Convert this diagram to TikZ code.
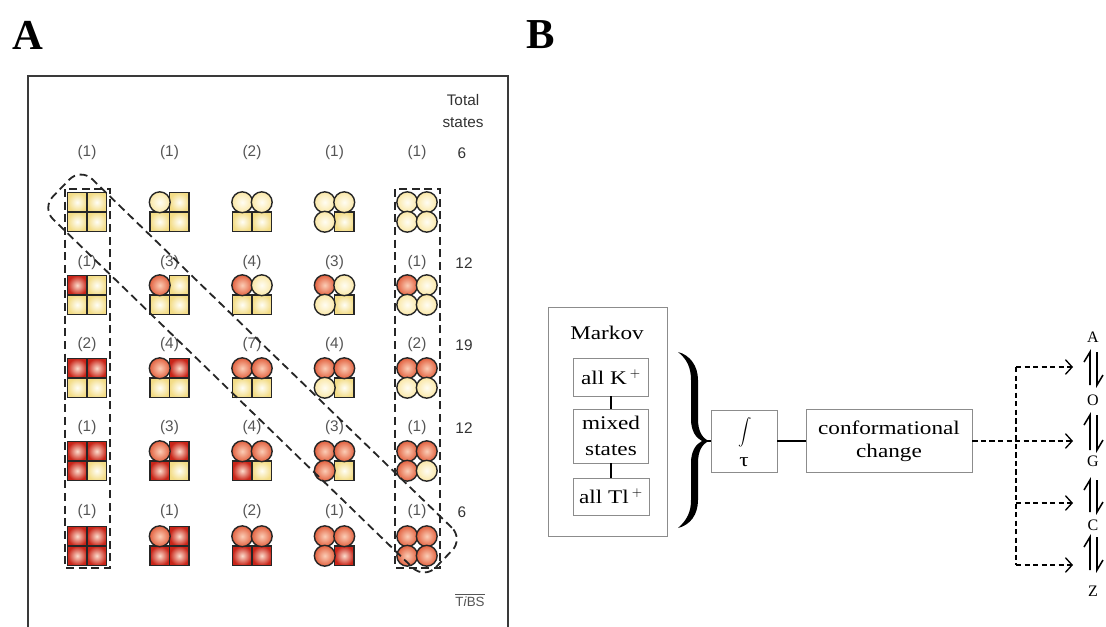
\documentclass[tikz,border=0pt]{standalone}
\usepackage{fontspec}
\setmainfont{Liberation Serif}
\setsansfont{Liberation Sans}
\newfontfamily\bfont[FakeStretch=1.2]{Liberation Serif}
\usetikzlibrary{arrows.meta}
\definecolor{redout}{HTML}{C92418}
\definecolor{redin}{HTML}{FCDCCC}
\definecolor{credout}{HTML}{E2603E}
\definecolor{credin}{HTML}{FBCDB6}
\definecolor{yelout}{HTML}{F3DC86}
\definecolor{yelin}{HTML}{FFFEF6}
\definecolor{cyelout}{HTML}{FAE7A6}
\definecolor{cyelin}{HTML}{FFFDF3}
\definecolor{labgray}{HTML}{555555}
\definecolor{framegray}{HTML}{3A3A3A}
\newcommand\glyph[4]{%
  \foreach \k/\dx/\dy in {0/0/0,1/1/0,2/0/1,3/1/1}{%
    \ifnum\k<#4\relax\def\gin{redin}\def\gout{redout}\else\def\gin{yelin}\def\gout{yelout}\fi
    \ifnum\k<#3\relax\else
      \draw[cellline, inner color=\gin, outer color=\gout]
        ({#1-19.5+\dx*19.5},{#2-19.5+\dy*19.5}) rectangle ++(19.5,19.5);
    \fi
  }%
  \foreach \k/\dx/\dy in {0/0/0,1/1/0,2/0/1,3/1/1}{%
    \ifnum\k<#4\relax\def\gin{credin}\def\gout{credout}\else\def\gin{cyelin}\def\gout{cyelout}\fi
    \ifnum\k<#3\relax
      \draw[cellline, inner color=\gin, outer color=\gout]
        ({#1-9.75+\dx*19.5},{#2-9.75+\dy*19.5}) circle[radius=10.4];
    \fi
  }%
}
\newcommand\harp[2]{%
  \draw[harpline] (1090,#2) -- (1090,#1) -- (1084,#1+10);
  \draw[harpline] (1097,#1) -- (1097,#2) -- (1103,#2-10);
}
\begin{document}
\begin{tikzpicture}[x=0.75pt,y=-0.75pt,
  cellline/.style={draw=black!85, line width=1.05pt},
  dashbox/.style={draw=black!85, line width=1.35pt, dash pattern=on 6pt off 3.5pt},
  lab/.style={font=\fontsize{11.5}{13}\sffamily, text=labgray, inner sep=0pt},
  tot/.style={font=\fontsize{11.5}{13}\sffamily, text=black!80, inner sep=0pt},
  bbox/.style={draw=black!45, line width=0.6pt, inner sep=0pt, align=center},
  btext/.style={font=\bfont\fontsize{14.5}{17}\selectfont, inner sep=0pt, align=center},
  conn/.style={line width=0.8pt},
  dconn/.style={line width=0.9pt, dash pattern=on 4pt off 2.4pt},
  tip/.style={-{Straight Barb[length=5pt,width=11pt,line width=1pt]}},
  harpline/.style={line width=1.15pt},
  panel/.style={font=\fontsize{32}{32}\selectfont\bfseries, inner sep=0pt},
  letter/.style={font=\fontsize{12}{14}\selectfont, inner sep=0pt}
]
\useasboundingbox (0,0) rectangle (1106,626);
\fill[white] (0,0) rectangle (1106,626);

% panel labels
\node[panel] (pA) at (28,35) {A};
\node[panel] (pB) at (541,35) {B};

% ---------- Panel A ----------
\draw[framegray, line width=1.1pt] (28,630) -- (28,76) -- (508,76) -- (508,630);

\node[tot] (tot1) at (463,100) {Total};
\node[tot] (tot2) at (463,123) {states};

\foreach \rr/\yy in {0/212,1/295,2/378,3/461,4/546}{
  \foreach \cc in {0,...,4}{\glyph{87+82.5*\cc}{\yy}{\cc}{\rr}}
}

\foreach \cc/\n in {0/1,1/1,2/2,3/1,4/1} \node[lab] (na\cc) at ({87+82.5*\cc},153) {(\n)};
\foreach \cc/\n in {0/1,1/3,2/4,3/3,4/1} \node[lab] (nb\cc) at ({87+82.5*\cc},263) {(\n)};
\foreach \cc/\n in {0/2,1/4,2/7,3/4,4/2} \node[lab] (nc\cc) at ({87+82.5*\cc},345) {(\n)};
\foreach \cc/\n in {0/1,1/3,2/4,3/3,4/1} \node[lab] (nd\cc) at ({87+82.5*\cc},428) {(\n)};
\foreach \cc/\n in {0/1,1/1,2/2,3/1,4/1} \node[lab] (ne\cc) at ({87+82.5*\cc},512) {(\n)};

\node[tot] (s1) at (462,153) {6};
\node[tot] (s2) at (464,263) {12};
\node[tot] (s3) at (464,345) {19};
\node[tot] (s4) at (464,428) {12};
\node[tot] (s5) at (462,512) {6};

\draw[dashbox] (65,189) rectangle (110,568);
\draw[dashbox] (395,189) rectangle (440,568);
\node[dashbox, rounded corners=12pt, minimum width=399.75pt, minimum height=42pt,
  rotate=-44.1] (diag) at (252.5,373.5) {};

\node[inner sep=0pt, text=labgray, font=\fontsize{10}{12}\sffamily] (tibs) at (470,600)
  {$\overline{\hbox{T\textit{i}BS}}$};

% ---------- Panel B ----------
\node[bbox, minimum width=89.25pt, minimum height=171.75pt] (markov) at (607.5,421.5) {};
\node[btext] (mk) at (607,333) {Markov};
\node[bbox, btext, draw=black!45, minimum width=56.25pt, minimum height=28.5pt] (allK) at (611,377) {all K\,$^{+}$};
\node[bbox, btext, draw=black!45, minimum width=56.25pt, minimum height=40.5pt,
  font=\bfont\fontsize{14.5}{19.5}\selectfont] (mixed) at (611,436) {mixed\\states};
\node[bbox, btext, draw=black!45, minimum width=57pt, minimum height=27.75pt] (allTl) at (611,496.5) {all Tl\,$^{+}$};
\draw[conn] (allK) -- (mixed);
\draw[conn] (mixed) -- (allTl);

% brace
\fill (678,352) .. controls (690,355) and (698,366) .. (698,380) -- (698,419)
  .. controls (698,431) and (702,438) .. (709,441)
  .. controls (702,444) and (698,451) .. (698,463) -- (698,500)
  .. controls (698,515) and (690,525) .. (678,528)
  .. controls (687,520) and (691,512) .. (691,500) -- (691,463)
  .. controls (691,451) and (696,444) .. (702,441)
  .. controls (696,438) and (691,431) .. (691,419) -- (691,380)
  .. controls (691,368) and (687,359) .. (678,352) -- cycle;
\coordinate (btip) at (707,441);

\node[bbox, minimum width=49.5pt, minimum height=46.5pt] (int) at (744,441) {};
\node[inner sep=0pt, font=\fontsize{13}{15}\selectfont] (intsym) at (745,432) {$\displaystyle\int$};
\node[btext] (tau) at (744,462) {τ};
\draw[conn] (btip) -- (int);

\node[bbox, btext, draw=black!45, minimum width=124.5pt, minimum height=47.25pt,
  font=\bfont\fontsize{14.5}{17}\selectfont] (conf) at (889,441) {conformational\\change};
\draw[conn] (int) -- (conf);

% dashed branches
\coordinate (jA) at (1016,367);
\coordinate (jC) at (1016,503);
\coordinate (jZ) at (1016,565);
\coordinate (tA) at (1073,367);
\coordinate (tG) at (1073,441);
\coordinate (tC) at (1073,503);
\coordinate (tZ) at (1073,565);
\draw[dconn, tip] (conf) -- (tG);
\draw[dconn] (jA) -- (jZ);
\draw[dconn, tip, line width=1.6pt] (jA) -- (tA);
\draw[dconn, tip] (jC) -- (tC);
\draw[dconn, tip] (jZ) -- (tZ);

% equilibria
\harp{352}{385}
\harp{415}{450}
\harp{480}{512}
\harp{537}{570}
\node[letter] (lA) at (1093,337) {A};
\node[letter] (lO) at (1093,400) {O};
\node[letter] (lG) at (1093,461) {G};
\node[letter] (lC) at (1093,525) {C};
\node[letter] (lZ) at (1093,591) {Z};
\end{tikzpicture}
\end{document}
